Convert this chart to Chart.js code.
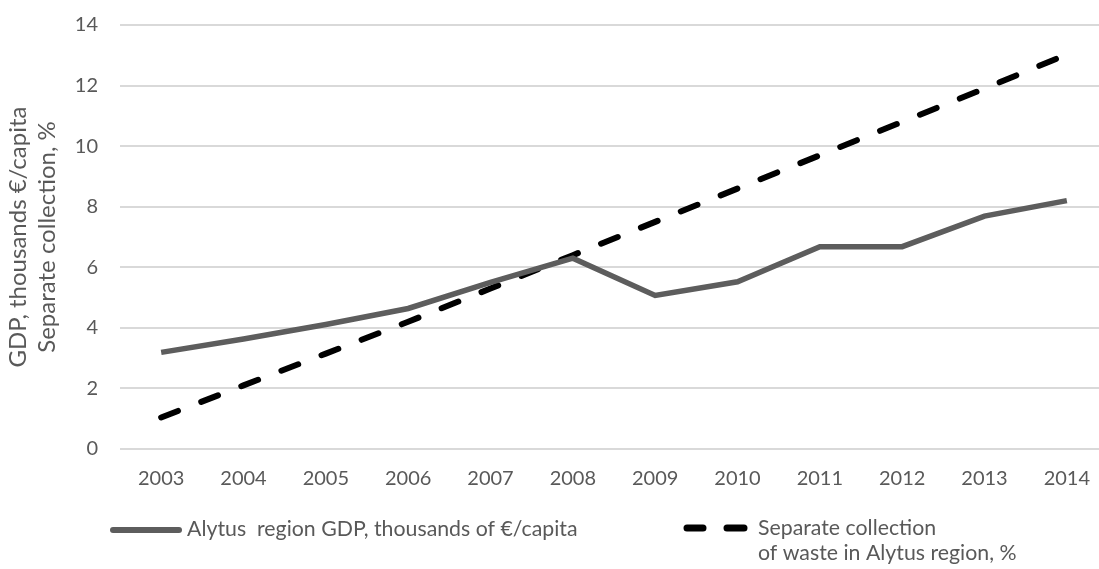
<!DOCTYPE html>
<html>
<head>
<meta charset="utf-8">
<script src="https://cdn.jsdelivr.net/npm/chart.js@4/dist/chart.umd.min.js"></script>
<style>
    html, body { margin: 0; padding: 0; background: #fff; overflow: hidden; }
    #wrap { width: 1099px; height: 569px; overflow: hidden; }
</style>
</head>
<body>
<div id="wrap"><canvas id="GdpChart" width="1108" height="569"></canvas></div>
<script>
const Years = ["2003", "2004", "2005", "2006", "2007", "2008", "2009", "2010", "2011", "2012", "2013", "2014"];
const GdpValues = [3.19, 3.63, 4.11, 4.64, 5.5, 6.3, 5.07, 5.52, 6.68, 6.68, 7.69, 8.2];
const WasteValues = [1.04, 2.1, 3.15, 4.2, 5.3, 6.4, 7.5, 8.6, 9.7, 10.8, 11.9, 13.03];
const YTicks = [0, 2, 4, 6, 8, 10, 12, 14];
const GdpLabel = "Alytus  region GDP, thousands of €/capita";
const WasteLabel = ["Separate collection", "of waste in Alytus region, %"];
const AxisTitle = ["GDP, thousands €/capita", "Separate collection, %"];

const FontFamily = "Lato, 'Open Sans', sans-serif";
const TextColor = "#595959";

// custom legend, the second label needs two lines
const BottomLegend = {
    id: "bottomLegend",
    afterDraw(chart) {
        const ctx = chart.ctx;
        ctx.save();
        ctx.font = "21.3px " + FontFamily;
        ctx.fillStyle = TextColor;
        ctx.textBaseline = "middle";

        ctx.strokeStyle = "#5d5d5d";
        ctx.lineWidth = 6;
        ctx.lineCap = "round";
        ctx.beginPath();
        ctx.moveTo(113, 530);
        ctx.lineTo(179, 530);
        ctx.stroke();
        ctx.fillText(GdpLabel, 187, 529);

        ctx.strokeStyle = "#000";
        ctx.lineWidth = 7;
        ctx.beginPath();
        ctx.moveTo(687, 528); ctx.lineTo(703, 528);
        ctx.moveTo(727, 528); ctx.lineTo(744, 528);
        ctx.stroke();
        ctx.fillText(WasteLabel[0], 758, 528);
        ctx.fillText(WasteLabel[1], 758, 553);
        ctx.restore();
    }
};

const GdpChartCtx = document.getElementById("GdpChart").getContext("2d");
const GdpChart = new Chart(GdpChartCtx, {
    type: "line",
    data: {
        labels: Years,
        datasets: [{
            label: GdpLabel,
            data: GdpValues,
            borderColor: "#5d5d5d",
            borderWidth: 5.5,
            pointRadius: 0,
            tension: 0
        }, {
            label: WasteLabel.join(" "),
            data: WasteValues,
            borderColor: "#000",
            borderWidth: 6,
            borderDash: [18, 25],
            borderCapStyle: "round",
            pointRadius: 0,
            tension: 0
        }]
    },
    options: {
        responsive: false,
        animation: false,
        layout: { padding: { top: 0, right: 0, bottom: 68, left: 4 } },
        plugins: {
            legend: { display: false },
            tooltip: { enabled: false }
        },
        scales: {
            x: {
                offset: true,
                grid: { display: false },
                border: { display: false },
                ticks: { color: TextColor, font: { family: FontFamily, size: 20 }, padding: 10 }
            },
            y: {
                min: 0,
                max: 14,
                afterBuildTicks: function (axis) {
                    axis.ticks = YTicks.map(v => ({ value: v }));
                },
                afterFit: function (axis) {
                    // chart.js doubles tick padding in fit and adds it on top too
                    axis.width = 116;
                    axis.paddingTop = 25;
                },
                grid: { color: "#d9d9d9", lineWidth: 2, drawTicks: false },
                border: { display: false },
                ticks: { color: TextColor, font: { family: FontFamily, size: 20 }, padding: 22 },
                title: {
                    display: true,
                    text: AxisTitle,
                    color: TextColor,
                    font: { family: FontFamily, size: 24, lineHeight: 1.2 },
                    padding: { top: 0, bottom: 0 }
                }
            }
        }
    },
    plugins: [BottomLegend]
});
</script>
</body>
</html>
